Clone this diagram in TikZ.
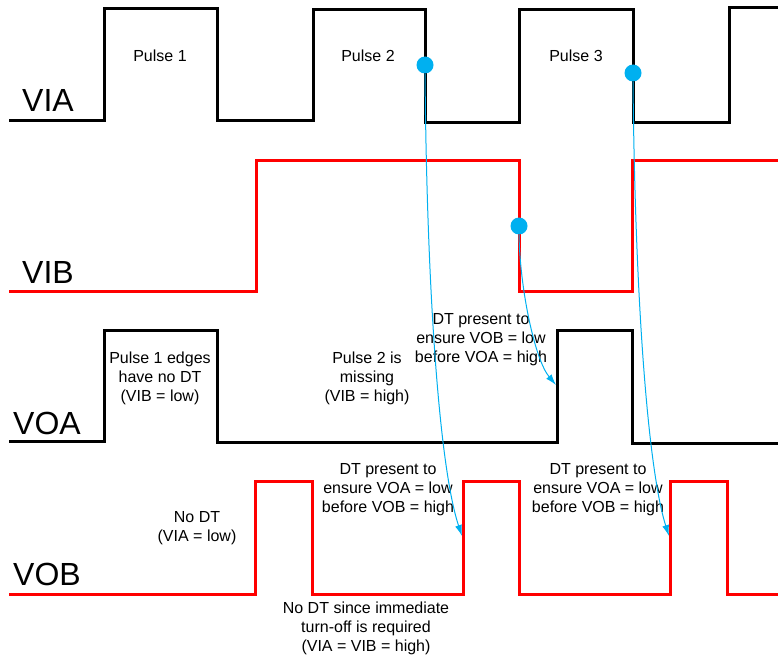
\documentclass[tikz,border=0pt]{standalone}
\usepackage{fontspec}
\setmainfont{Liberation Sans}
\usetikzlibrary{arrows.meta}
\definecolor{wire}{HTML}{00B0F0}
\begin{document}
\begin{tikzpicture}[x=1pt,y=-1pt,
  sigA/.style={line width=3pt, black},
  sigB/.style={line width=3pt, red},
  lbl/.style={font=\fontsize{16}{19}\selectfont, align=center, inner sep=0pt, anchor=north},
  big/.style={font=\fontsize{32}{38}\selectfont, inner sep=0pt, anchor=base west},
  dotm/.style={circle, fill=wire, minimum size=17pt, inner sep=0pt},
  cue/.style={wire, line width=1pt, -{Latex[length=11pt,width=7pt]}}]
\useasboundingbox (0,0) rectangle (778,658);

% waveforms
\draw[sigA] (9,120) -- (104,120) -- (104,9) -- (217,9) -- (217,120) -- (313,120) -- (313,10) -- (425,10) -- (425,122) -- (519,122) -- (519,10) -- (633,10) -- (633,122) -- (729,122) -- (729,8) -- (780,8);
\draw[sigB] (9,291) -- (256,291) -- (256,160) -- (519,160) -- (519,291) -- (632,291) -- (632,160) -- (780,160);
\draw[sigA] (9,441) -- (104,441) -- (104,330) -- (217,330) -- (217,442) -- (557,442) -- (557,330) -- (632,330) -- (632,443) -- (780,443);
\draw[sigB] (9,594) -- (255,594) -- (255,481) -- (312,481) -- (312,594) -- (463,594) -- (463,481) -- (519,481) -- (519,594) -- (670,594) -- (670,481) -- (727,481) -- (727,594) -- (780,594);

% signal names
\node[big] (via) at (22,112) {VIA};
\node[big] (vib) at (22,283) {VIB};
\node[big] (voa) at (13,434) {VOA};
\node[big] (vob) at (13,585) {VOB};

% texts
\node[lbl] (p1) at (160,49.5) {Pulse 1};
\node[lbl] (p2) at (368,49.5) {Pulse 2};
\node[lbl] (p3) at (576,49.5) {Pulse 3};
\node[lbl] (e1) at (160,351.5) {Pulse 1 edges\\have no DT\\(VIB = low)};
\node[lbl] (m2) at (367,351.5) {Pulse 2 is\\missing\\(VIB = high)};
\node[lbl] (dta) at (481,313.5) {DT present to\\ensure VOB = low\\before VOA = high};
\node[lbl] (nodt) at (197,511.5) {No DT\\(VIA = low)};
\node[lbl] (dtb1) at (388,463.5) {DT present to\\ensure VOA = low\\before VOB = high};
\node[lbl] (dtb2) at (598,463.5) {DT present to\\ensure VOA = low\\before VOB = high};
\node[lbl] (imm) at (366,601.5) {No DT since immediate\\turn-off is required\\(VIA = VIB = high)};

% markers and cause arrows
\node[dotm] (d1) at (425,65) {};
\node[dotm] (d2) at (633,73) {};
\node[dotm] (d3) at (519,226) {};
\coordinate (t1) at (462,536);
\coordinate (t2) at (669,536);
\coordinate (t3) at (556,385);
\draw[cue] (d1.south) .. controls (427,300) and (440,470) .. (t1);
\draw[cue] (d2.south) .. controls (635,300) and (648,470) .. (t2);
\draw[cue] (d3.south) .. controls (520,290) and (535,360) .. (t3);
\end{tikzpicture}
\end{document}
